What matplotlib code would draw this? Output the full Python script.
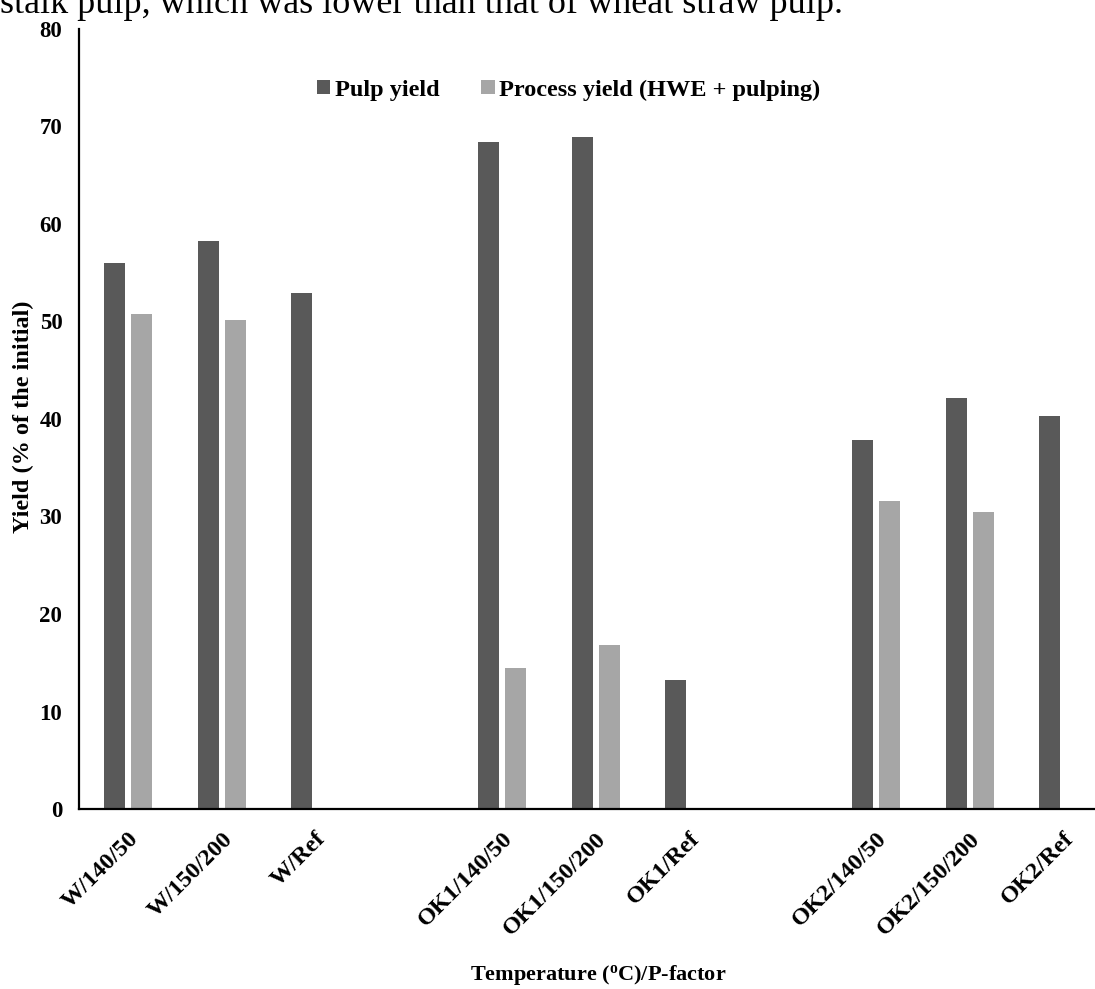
import matplotlib
matplotlib.use("Agg")
import matplotlib.pyplot as plt
import numpy as np

# ---- data ----
categories = ["W/140/50", "W/150/200", "W/Ref", "",
              "OK1/140/50", "OK1/150/200", "OK1/Ref", "",
              "OK2/140/50", "OK2/150/200", "OK2/Ref"]
pulp_yield = [56.0, 58.3, 52.9, np.nan, 68.4, 68.9, 13.2, np.nan, 37.8, 42.2, 40.3]
process_yield = [50.8, 50.2, np.nan, np.nan, 14.5, 16.8, np.nan, np.nan, 31.6, 30.5, np.nan]
series_names = ["Pulp yield", "Process yield (HWE + pulping)"]
y_ticks = [0, 10, 20, 30, 40, 50, 60, 70, 80]

dark = "#595959"
light = "#A6A6A6"
FONT = "Liberation Serif"

plt.rcParams["mathtext.fontset"] = "custom"
plt.rcParams["mathtext.rm"] = "Liberation Serif:bold"
plt.rcParams["mathtext.it"] = "Liberation Serif:bold"
plt.rcParams["mathtext.bf"] = "Liberation Serif:bold"

W, H = 1095, 989
fig = plt.figure(figsize=(W / 100, H / 100), dpi=100)
ax = fig.add_axes([79 / W, 1 - 809 / H, 1 - 79 / W, (809 - 29) / H])

x = np.arange(len(categories))
bw = 0.2246
off = 0.1444
b1 = ax.bar(x - off, pulp_yield, width=bw, color=dark, label=series_names[0])
b2 = ax.bar(x + off, process_yield, width=bw, color=light, label=series_names[1])

ax.set_xlim(-0.527, 10.34)
ax.set_ylim(0, 80)
ax.set_yticks(y_ticks)
ax.set_yticklabels([str(t) for t in y_ticks], fontfamily=FONT, fontweight="bold", fontsize=16.5)
ax.tick_params(axis="y", length=0, pad=12)

ax.set_xticks(x)
ax.set_xticklabels(categories, rotation=45, ha="right", va="top", rotation_mode="anchor",
                   fontfamily=FONT, fontweight="bold", fontsize=17.5)
ax.tick_params(axis="x", length=0, pad=14)

for s in ["top", "right"]:
    ax.spines[s].set_visible(False)
for s in ["left", "bottom"]:
    ax.spines[s].set_linewidth(1.6)
    ax.spines[s].set_color("black")

fig.text(23 / W, 1 - 417 / H, "Yield (% of the initial)", rotation=90, ha="center", va="center",
         fontfamily=FONT, fontweight="bold", fontsize=17.5)

fig.text(598 / W, 1 - 975 / H, r"Temperature ($\mathregular{^o}$C)/P-factor", ha="center", va="center",
         fontfamily=FONT, fontweight="bold", fontsize=16)

leg = ax.legend(handles=[b1, b2], loc="center left", bbox_to_anchor=(317 / W, 1 - 90 / H),
                bbox_transform=fig.transFigure, ncol=2, frameon=False, borderpad=0,
                borderaxespad=0, handlelength=0.55, handleheight=0.55, handletextpad=0.2,
                columnspacing=1.7, prop={"family": FONT, "weight": "bold", "size": 17.5})

fig.text(0.0, 1 - 13 / H, "stalk pulp, which was lower than that of wheat straw pulp.",
         ha="left", va="baseline", fontfamily=FONT, fontsize=26)

fig.savefig("out.png", dpi=100)
